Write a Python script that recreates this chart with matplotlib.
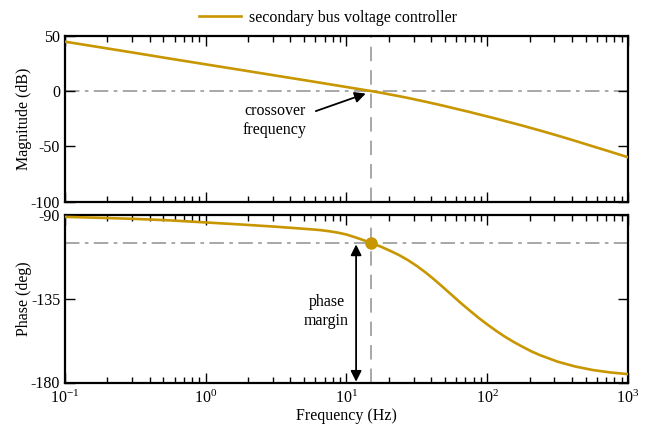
import matplotlib
matplotlib.use("Agg")
import matplotlib.pyplot as plt
from matplotlib.ticker import LogLocator, NullFormatter

plt.rcParams['font.family'] = ['Liberation Serif', 'DejaVu Serif']
plt.rcParams['mathtext.fontset'] = 'stix'
plt.rcParams['axes.unicode_minus'] = False

# values (Hz, dB, deg)
freq = [0.1, 0.178, 0.316, 0.562, 1.0, 1.78, 3.16, 5.62, 6.49, 7.5, 8.66,
        10.0, 11.55, 13.3, 15.4, 17.8, 20.5, 23.7, 27.4, 31.6, 36.5, 42.2, 48.7,
        56.2, 64.9, 75.0, 86.6, 100.0, 115.5, 133.0, 154.0, 178.0, 205.0, 237.0,
        316.0, 422.0, 562.0, 750.0, 1000.0]
mag_db = [44.6, 39.5, 34.4, 29.2, 24.1, 19.0, 13.9, 8.8, 7.5, 6.2, 4.9,
          3.6, 2.3, 1.0, -0.3, -1.7, -3.2, -4.7, -6.3, -8.0, -9.7, -11.5, -13.3,
          -15.2, -17.1, -19.0, -21.0, -23.0, -25.0, -27.1, -29.2, -31.3, -33.5, -35.7,
          -40.3, -45.1, -50.0, -54.9, -59.9]
phase_deg = [-91.0, -91.5, -92.1, -92.9, -94.0, -95.1, -96.3, -97.7, -98.1, -98.7, -99.45,
             -100.5, -102.0, -103.6, -105.35, -107.2, -109.3, -111.6, -114.3, -117.4, -120.9, -124.8, -128.9,
             -133.1, -137.3, -141.3, -145.2, -148.8, -152.2, -155.3, -158.2, -160.8, -163.2, -165.3,
             -168.8, -171.4, -173.3, -174.6, -175.5]

f_cross = 14.9      # crossover frequency
pm_phase = -105.3   # phase at crossover
pm_arrow_f = 11.7

mag_ticks = [50, 0, -50, -100]
phase_ticks = [-90, -135, -180]
series_name = 'secondary bus voltage controller'

gold = '#C89600'
grey = '#A0A0A0'

fig = plt.figure(figsize=(6.56, 4.25), dpi=100)
ax1 = fig.add_axes([0.0991, 0.5256, 0.8582, 0.3904])
ax2 = fig.add_axes([0.0991, 0.1, 0.8582, 0.3941])

for ax in (ax1, ax2):
    ax.set_xscale('log')
    ax.set_xlim(0.1, 1000)
    ax.xaxis.set_major_locator(LogLocator(base=10, numticks=10))
    ax.xaxis.set_minor_locator(LogLocator(base=10, subs=range(2, 10), numticks=20))
    ax.xaxis.set_minor_formatter(NullFormatter())
    ax.tick_params(which='both', direction='in', top=True, right=True, labelsize=11.5)
    ax.tick_params(which='major', length=7, width=1)
    ax.tick_params(which='minor', length=4, width=1)
    for s in ax.spines.values():
        s.set_linewidth(1.6)
    ax.axvline(f_cross, color=grey, lw=1.3, ls=(0, (8, 5)), zorder=1)

# magnitude
line, = ax1.plot(freq, mag_db, color=gold, lw=1.9, zorder=3, label=series_name)
ax1.axhline(0, color=grey, lw=1.3, ls=(0, (8, 3, 2, 3)), zorder=1)
ax1.set_ylim(-100, 50)
ax1.set_yticks(mag_ticks)
ax1.tick_params(labelbottom=False)
ax1.set_ylabel('Magnitude (dB)', fontsize=11.5)
ax1.annotate('', xy=(14.3, -1.5), xytext=(5.8, -19),
             arrowprops=dict(arrowstyle='-|>', color='black', lw=1.3, mutation_scale=16))
ax1.text(3.1, -27, 'crossover\nfrequency', ha='center', va='center', fontsize=11.5,
         linespacing=1.25)

# phase
ax2.plot(freq, phase_deg, color=gold, lw=1.9, zorder=3)
ax2.axhline(pm_phase, color=grey, lw=1.3, ls=(0, (8, 3, 2, 3)), zorder=1)
ax2.plot([f_cross], [pm_phase], 'o', color=gold, ms=8, zorder=4)
ax2.set_ylim(-180, -90)
ax2.set_yticks(phase_ticks)
ax2.tick_params(axis='x', which='major', pad=5)
ax2.set_ylabel('Phase (deg)', fontsize=11.5)
ax2.set_xlabel('Frequency (Hz)', fontsize=11.5)
ax2.xaxis.set_label_coords(0.5, -0.155)
ax2.annotate('', xy=(pm_arrow_f, pm_phase - 0.5), xytext=(pm_arrow_f, -179.6),
             arrowprops=dict(arrowstyle='<|-|>', color='black', lw=1.3,
                             mutation_scale=16, shrinkA=0, shrinkB=0))
ax2.text(7.2, -142, 'phase\nmargin', ha='center', va='center', fontsize=11.5,
         linespacing=1.25)

ax1.yaxis.set_label_coords(-0.058, 0.5)
ax2.yaxis.set_label_coords(-0.058, 0.5)

fig.legend(handles=[line], loc='center', bbox_to_anchor=(0.5, 0.958), frameon=False,
           fontsize=11.5, handlelength=2.6, handletextpad=0.5)

fig.savefig('out.png', dpi=100)
